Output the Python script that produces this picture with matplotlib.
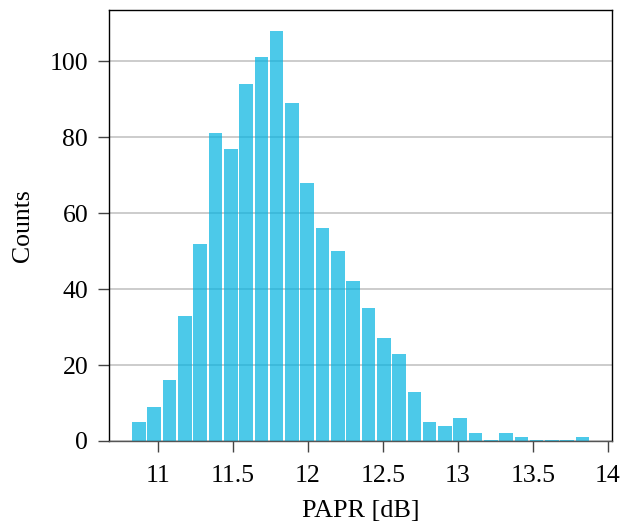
import numpy as np
import matplotlib
matplotlib.use("Agg")
import matplotlib.pyplot as plt

# Data
bin_start = 10.822
bin_width = 0.102
counts = [5, 9, 16, 33, 52, 81, 77, 94, 101, 108, 89, 68, 56, 50, 42,
          35, 27, 23, 13, 5, 4, 6, 2, 0, 2, 1, 0, 0, 0, 1]
x_ticks = [11, 11.5, 12, 12.5, 13, 13.5, 14]
x_tick_labels = ["11", "11.5", "12", "12.5", "13", "13.5", "14"]
y_ticks = [0, 20, 40, 60, 80, 100]
x_label = "PAPR [dB]"
y_label = "Counts"

plt.rcParams['font.family'] = ['Liberation Serif', 'DejaVu Serif']
plt.rcParams['mathtext.fontset'] = 'stix'

fig = plt.figure(figsize=(6.38, 5.21), dpi=100)
ax = fig.add_axes([0.1708, 0.1536, 0.9592 - 0.1708, 0.9808 - 0.1536])

edges = bin_start + bin_width * np.arange(len(counts) + 1)
centers = (edges[:-1] + edges[1:]) / 2
bar_color = '#00B2E1'
ax.bar(centers, counts, width=0.89 * bin_width, color=bar_color, alpha=0.7,
       linewidth=0, zorder=2)
# thin baseline marks for empty bins
ax.bar(centers, [0.25 if c == 0 else 0 for c in counts], width=0.89 * bin_width,
       color=bar_color, alpha=0.7, linewidth=0, zorder=2)

ax.set_xlim(10.673, 14.027)
ax.set_ylim(0, 113.5)
ax.set_xticks(x_ticks)
ax.set_xticklabels(x_tick_labels)
ax.set_yticks(y_ticks)

ax.yaxis.grid(True, color='#c8c8c8', linewidth=1.3, zorder=0)
ax.xaxis.grid(False)
ax.set_axisbelow(True)

for s in ['left', 'right', 'top']:
    ax.spines[s].set_color('black')
    ax.spines[s].set_linewidth(1.0)
ax.spines['bottom'].set_color('#555555')
ax.spines['bottom'].set_linewidth(1.0)

ax.tick_params(axis='both', direction='out', length=8, width=1.0,
               color='#444444', labelsize=18.5, labelcolor='black')
ax.tick_params(axis='x', pad=9)
ax.tick_params(axis='y', pad=7)

ax.set_xlabel(x_label, fontsize=18.8, labelpad=10)
ax.set_ylabel(y_label, fontsize=18.5, labelpad=11)

fig.savefig("out.png", dpi=100)
